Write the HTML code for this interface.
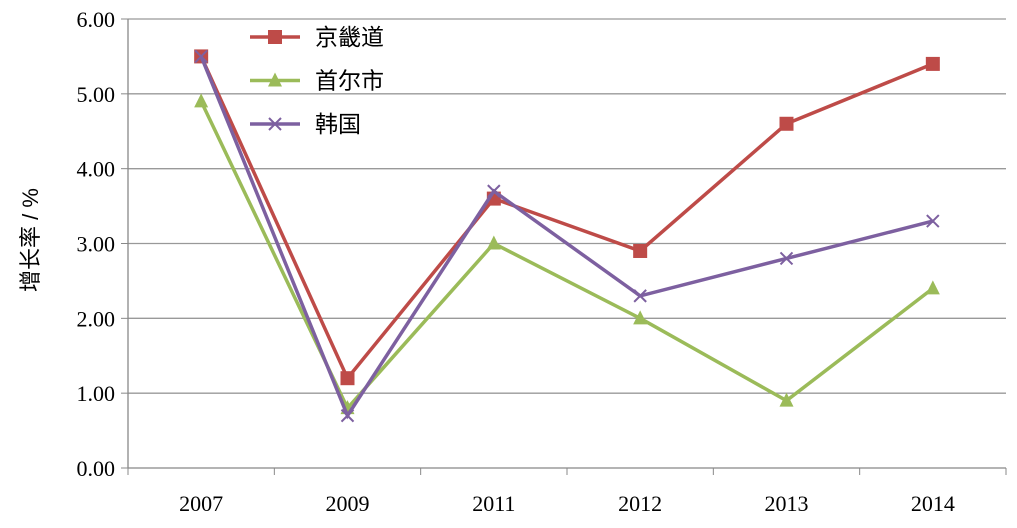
<!DOCTYPE html>
<html><head><meta charset="utf-8"><style>
body{margin:0;background:#fff}
svg text{font-family:"Liberation Serif","Noto Serif CJK SC",serif;fill:#000}
</style></head><body>
<svg width="1017" height="523">
<g id="grid"></g><g id="axes"></g><g id="series"></g><g id="legend"></g>
<text transform="translate(38,240) rotate(-90)" text-anchor="middle" font-size="22" style="font-family:'Liberation Sans','Noto Sans CJK SC',sans-serif">增长率 / %</text>
</svg>
<script>
const categories=["2007","2009","2011","2012","2013","2014"];
const gyeonggi=[5.5,1.2,3.6,2.9,4.6,5.4];
const seoul=[4.9,0.8,3.0,2.0,0.9,2.4];
const korea=[5.5,0.7,3.7,2.3,2.8,3.3];
const yTicks=[0,1,2,3,4,5,6];
const seriesNames=["京畿道","首尔市","韩国"];
const NS="http://www.w3.org/2000/svg";
const x0=128,x1=1006,yTop=19,yBot=468,yMax=6;
const bw=(x1-x0)/categories.length;
const xs=i=>x0+bw*(i+0.5);
const ys=v=>yBot-(v/yMax)*(yBot-yTop);
function mk(tag,attrs,parent){const e=document.createElementNS(NS,tag);for(const k in attrs)e.setAttribute(k,attrs[k]);parent.appendChild(e);return e;}
const grid=document.getElementById('grid'),axes=document.getElementById('axes');
yTicks.forEach(t=>{
 const l=mk('line',{x1:x0,x2:x1,y1:ys(t),y2:ys(t),stroke:t===0?'#888':'#999','stroke-width':1.3},grid);
 
 
 mk('line',{x1:x0-7,x2:x0,y1:ys(t),y2:ys(t),stroke:'#888'},axes);
 const tx=mk('text',{x:x0-13,y:ys(t)+8,'text-anchor':'end','font-size':22},axes);
 tx.textContent=t.toFixed(2);
 
 
});
const ya=mk('line',{x1:x0,x2:x0,y1:yTop,y2:yBot,stroke:'#888','stroke-width':1.3},axes);


categories.forEach((c,i)=>{
 mk('line',{x1:x0+bw*(i+1),x2:x0+bw*(i+1),y1:yBot,y2:yBot+7,stroke:'#888'},axes);
 if(i===0)mk('line',{x1:x0,x2:x0,y1:yBot,y2:yBot+7,stroke:'#888'},axes);
 const tx=mk('text',{x:xs(i),y:yBot+43,'text-anchor':'middle','font-size':22},axes);
 tx.textContent=c;
 
 
});
const colors=["#BE4B48","#9BBB59","#7D60A0"];
const data=[gyeonggi,seoul,korea];
const sg=document.getElementById('series'),lg=document.getElementById('legend');
function marker(type,cx,cy,col,parent){
 if(type===0)return mk('rect',{x:cx-7,y:cy-7,width:14,height:14,fill:col},parent);
 if(type===1)return mk('polygon',{points:`${cx},${cy-8} ${cx+7},${cy+6} ${cx-7},${cy+6}`,fill:col},parent);
 return mk('path',{d:`M${cx-6} ${cy-6}L${cx+6} ${cy+6}M${cx-6} ${cy+6}L${cx+6} ${cy-6}`,stroke:col,'stroke-width':2},parent);
}
data.forEach((arr,s)=>{
 const p=mk('polyline',{points:arr.map((v,i)=>xs(i)+','+ys(v)).join(' '),fill:'none',stroke:colors[s],'stroke-width':3.5},sg);
 
 
 arr.forEach((v,i)=>{
  const m=marker(s,xs(i),ys(v),colors[s],sg);
  
  
 });
 const ly=37+s*43.5;
 mk('line',{x1:250,x2:300,y1:ly,y2:ly,stroke:colors[s],'stroke-width':3.5},lg);
 marker(s,275,ly,colors[s],lg);
 const t=mk('text',{x:315,y:ly+8,'font-size':23},lg);
 t.setAttribute('style',"font-family:'Liberation Sans','Noto Sans CJK SC',sans-serif");
 t.textContent=seriesNames[s];
 
 
});
</script>
</body></html>
